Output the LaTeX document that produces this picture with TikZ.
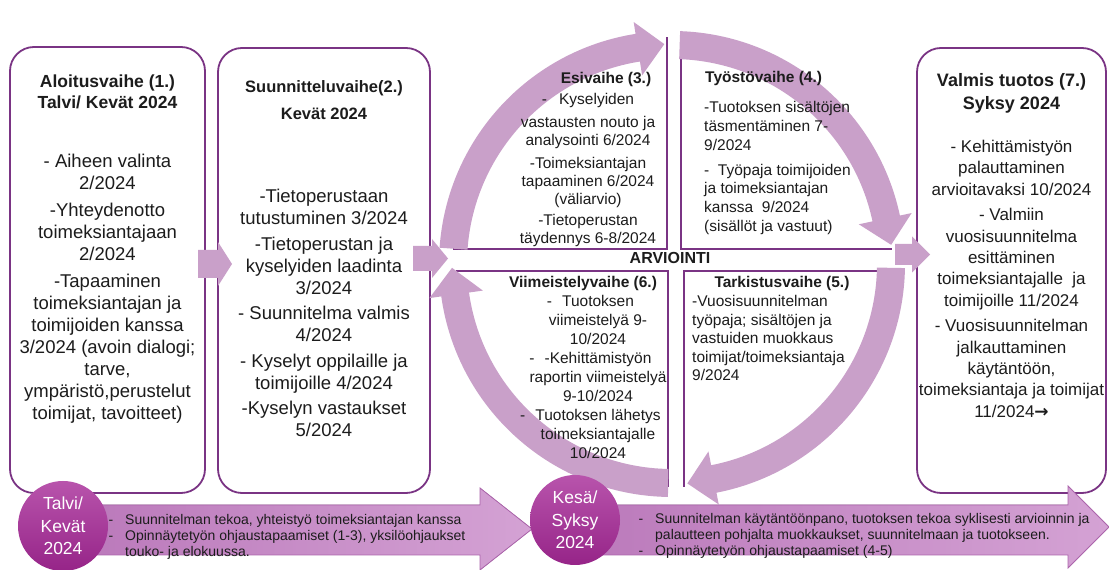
\documentclass[tikz,border=0pt]{standalone}
\usepackage{fontspec}
\setmainfont{Liberation Sans}
\newfontfamily\symfam{DejaVu Sans}
\usetikzlibrary{calc}
\definecolor{pborder}{RGB}{122,52,132}
\definecolor{lilac}{RGB}{201,160,201}
\definecolor{txt}{RGB}{28,28,28}
\definecolor{circtop}{RGB}{184,84,172}
\definecolor{circbot}{RGB}{150,36,136}
\definecolor{barL}{RGB}{186,120,186}
\definecolor{barR}{RGB}{212,162,212}
\definecolor{barD}{RGB}{172,100,172}
\newcommand{\Ro}{233pt}
\newcommand{\Ri}{205pt}
\newcommand{\Rm}{220pt}
\newcommand{\Rho}{245pt}
\newcommand{\Rhi}{191pt}
\newcommand{\cycarrow}[3]{%
  \fill[lilac] ($(cc)+(#1:\Ro)$) arc[start angle=#1, end angle=#3, radius=\Ro]
    -- ($(cc)+(#3:\Rho)$) -- ($(cc)+(#2:\Rm)$) -- ($(cc)+(#3:\Rhi)$)
    -- ($(cc)+(#3:\Ri)$) arc[start angle=#3, end angle=#1, radius=\Ri] -- cycle;}
\begin{document}
\begin{tikzpicture}[x=1pt,y=1pt,
  panel/.style={draw=pborder, line width=1.8pt, fill=white, rounded corners=24pt, inner sep=0},
  qline/.style={draw=pborder, line width=1.8pt},
  txtb/.style={inner sep=0, text=txt, align=center, anchor=north},
  bigtxt/.style={font=\fontsize{18.5}{22}\selectfont},
  midtxt/.style={font=\fontsize{15.5}{18.5}\selectfont},
  midhead/.style={font=\fontsize{15.5}{18.5}\selectfont\bfseries},
  bartxt/.style={inner sep=0, anchor=north west, align=left, text=txt, font=\fontsize{14}{15.7}\selectfont},
  season/.style={circle, minimum size=90pt, inner sep=0, top color=circtop, bottom color=circbot, text=white, align=center, font=\fontsize{17.5}{22.5}\selectfont},
  bar/.style={draw=barD, line width=0.8pt, left color=barL, right color=barR}
]
\fill[white] (0,0) rectangle (1109,570);
\useasboundingbox (0,0) rectangle (1109,570);

% main panels
\node[panel, minimum width=195pt, minimum height=446pt] (b1) at (107.5,300) {};
\node[panel, minimum width=212pt, minimum height=445pt] (b2) at (324,299.5) {};
\node[panel, minimum width=189pt, minimum height=445pt] (b7) at (1011.5,299.5) {};

% quadrant borders
\draw[qline] (453,321) -- (667,321) -- (667,533);
\draw[qline] (681,539) -- (681,321) -- (892,321);
\draw[qline] (456,299) -- (668,299) -- (668,83);
\draw[qline] (897,299) -- (684,299) -- (684,83);

% cycle arrows
\coordinate (cc) at (672,306);
\cycarrow{176}{92}{99}
\cycarrow{88}{5}{12}
\cycarrow{-1}{-86}{-79}
\cycarrow{-91}{-179}{-172}

% block arrows between stages
\coordinate (p12) at (198,306);
\coordinate (p2c) at (413,311.5);
\coordinate (pc7) at (895,315.5);
\fill[lilac] (p12) ++(0,14) -- ++(20,0) -- ++(0,8) -- ++(14,-22) -- ++(-14,-22) -- ++(0,8) -- ++(-20,0) -- cycle;
\fill[lilac] (p2c) ++(0,12.5) -- ++(19,0) -- ++(0,7) -- ++(16,-19.5) -- ++(-16,-19.5) -- ++(0,7) -- ++(-19,0) -- cycle;
\fill[lilac] (pc7) ++(0,10.5) -- ++(17,0) -- ++(0,7.5) -- ++(18,-18) -- ++(-18,-18) -- ++(0,7.5) -- ++(-17,0) -- cycle;

% box 1
\node[txtb, font=\fontsize{17.5}{21}\selectfont\bfseries] (h1) at (107.5,495.5) {Aloitusvaihe (1.)\\Talvi/ Kevät 2024};
\node[txtb, bigtxt] (t1) at (107.5,416) {- Aiheen valinta\\2/2024\\[5pt]-Yhteydenotto\\toimeksiantajaan\\2/2024\\[5pt]-Tapaaminen\\toimeksiantajan ja\\toimijoiden kanssa\\3/2024 (avoin dialogi;\\tarve,\\ympäristö,perustelut\\toimijat, tavoitteet)};

% box 2
\node[txtb, font=\fontsize{16.5}{21}\selectfont\bfseries] (h2) at (324,490) {Suunnitteluvaihe(2.)\\[6pt]Kevät 2024};
\node[txtb, bigtxt] (t2) at (324,381) {-Tietoperustaan\\tutustuminen 3/2024\\[3.5pt]-Tietoperustan ja\\kyselyiden laadinta\\3/2024\\[3.5pt]- Suunnitelma valmis\\4/2024\\[3.5pt]- Kyselyt oppilaille ja\\toimijoille 4/2024\\[3.5pt]-Kyselyn vastaukset\\5/2024};

% box 7
\node[txtb, font=\fontsize{18}{23}\selectfont\bfseries] (h7) at (1011.5,497) {Valmis tuotos (7.)\\Syksy 2024};
\node[txtb, font=\fontsize{17}{21.3}\selectfont] (t7) at (1011.5,430) {- Kehittämistyön\\palauttaminen\\arvioitavaksi 10/2024\\[4.5pt]- Valmiin\\vuosisuunnitelma\\esittäminen\\toimeksiantajalle\ \ ja\\toimijoille 11/2024\\[4.5pt]- Vuosisuunnitelman\\jalkauttaminen\\käytäntöön,\\toimeksiantaja ja toimijat\\11/2024{\symfam\bfseries →}};

% box 3
\node[txtb, midhead] (h3) at (606,497.5) {Esivaihe (3.)};
\node[txtb, font=\fontsize{15.5}{18}\selectfont] (t3) at (588,476.7) {-\hspace{12pt}Kyselyiden\\[5pt]vastausten nouto ja\\analysointi 6/2024\\[5pt]-Toimeksiantajan\\tapaaminen 6/2024\\(väliarvio)\\[3pt]-Tietoperustan\\täydennys 6-8/2024};

% box 4
\node[txtb, midhead, anchor=north west, align=left] (h4) at (705,498.7) {Työstövaihe (4.)};
\node[txtb, font=\fontsize{15.5}{18.8}\selectfont, anchor=north west, align=left] (t4) at (704,468.7) {-Tuotoksen sisältöjen\\täsmentäminen 7-\\9/2024\\[6pt]-\ \ Työpaja toimijoiden\\ja toimeksiantajan\\kanssa\ \ 9/2024\\(sisällöt ja vastuut)};

% box 5
\node[txtb, midhead] (h5) at (782,293.7) {Tarkistusvaihe (5.)};
\node[txtb, midtxt, anchor=north west, align=left] (t5) at (692,274.7) {-Vuosisuunnitelman\\työpaja; sisältöjen ja\\vastuiden muokkaus\\toimijat/toimeksiantaja\\9/2024};

% box 6
\node[txtb, midhead] (h6) at (583,293.7) {Viimeistelyvaihe (6.)};
\node[txtb, font=\fontsize{15.5}{18.7}\selectfont] (t6) at (598,274.7) {\llap{-\hspace{10pt}}Tuotoksen\\viimeistelyä 9-\\10/2024\\[1pt]\llap{-\hspace{10pt}}-Kehittämistyön\\raportin viimeistelyä\\9-10/2024\\[1pt]\llap{-\hspace{10pt}}Tuotoksen lähetys\\toimeksiantajalle\\10/2024};

\node[inner sep=0, text=txt, font=\fontsize{16}{18}\selectfont\bfseries] (arv) at (670,312) {ARVIOINTI};

% bottom timeline arrows
\fill[bar] (70,65) -- (480,65) -- (480,82) -- (532,41) -- (480,0) -- (480,15) -- (70,15) -- cycle;
\fill[bar] (560,65) -- (1068,65) -- (1068,84) -- (1109,43) -- (1068,2) -- (1068,15) -- (560,15) -- cycle;

\node[season] (c1) at (63,44) {Talvi/\\Kevät\\2024};
\node[season] (c2) at (575,50) {Kesä/\\Syksy\\2024};

\node[bartxt] (ta1) at (125,55.5) {\llap{-\hspace{12pt}}Suunnitelman tekoa, yhteistyö toimeksiantajan kanssa\\\llap{-\hspace{12pt}}Opinnäytetyön ohjaustapaamiset (1-3), yksilöohjaukset\\touko- ja elokuussa.};
\node[bartxt] (ta2) at (655,56.5) {\llap{-\hspace{12pt}}Suunnitelman käytäntöönpano, tuotoksen tekoa syklisesti arvioinnin ja\\palautteen pohjalta muokkaukset, suunnitelmaan ja tuotokseen.\\\llap{-\hspace{12pt}}Opinnäytetyön ohjaustapaamiset (4-5)};
\end{tikzpicture}
\end{document}
